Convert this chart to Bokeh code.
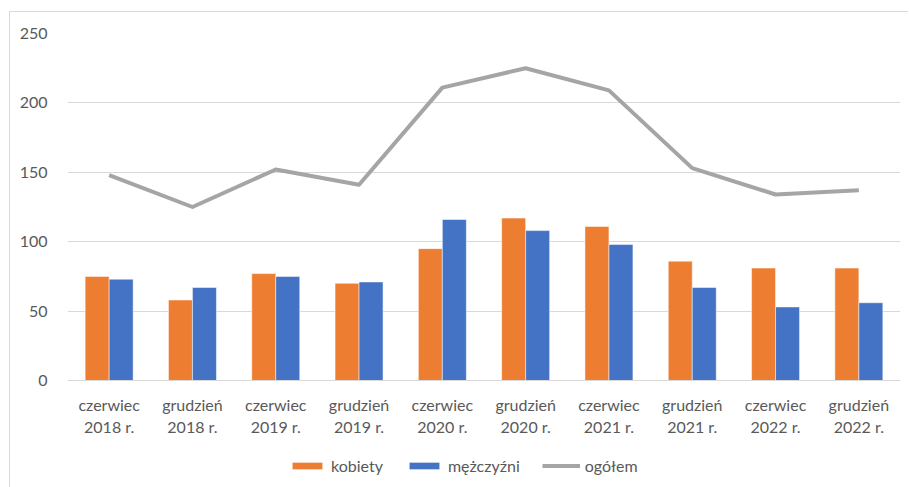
from bokeh.plotting import figure
from bokeh.models import FactorRange, Legend, LegendItem, Range1d, FixedTicker
from bokeh.transform import dodge
from bokeh.embed import file_html
from bokeh.resources import INLINE
from bokeh.models import ColumnDataSource

categories = ["czerwiec\n2018 r.", "grudzień\n2018 r.", "czerwiec\n2019 r.", "grudzień\n2019 r.",
              "czerwiec\n2020 r.", "grudzień\n2020 r.", "czerwiec\n2021 r.", "grudzień\n2021 r.",
              "czerwiec\n2022 r.", "grudzień\n2022 r."]
kobiety = [75, 58, 77, 70, 95, 117, 111, 86, 81, 81]
mezczyzni = [73, 67, 75, 71, 116, 108, 98, 67, 53, 56]
ogolem = [148, 125, 152, 141, 211, 225, 209, 153, 134, 137]
y_ticks = [0, 50, 100, 150, 200, 250]

FONT = "Lato"
TXT = "#595959"

src = ColumnDataSource(dict(cat=categories, k=kobiety, m=mezczyzni, o=ogolem))

# frame spans from the top gridline down to the page bottom; the value axis
# keeps 0..250 over the upper 347 px, leaving room below 0 for labels and legend
px_per_unit = 347 / 250
y_bottom = -107 / px_per_unit

p = figure(x_range=FactorRange(*categories), y_range=Range1d(y_bottom, 250),
           frame_width=833, frame_height=454, output_backend="svg",
           toolbar_location=None, min_border_left=57, min_border_top=21,
           min_border_right=8, min_border_bottom=0)
p.margin = (11, 0, 0, 9)
p.styles = {"border-top": "1px solid #d9d9d9", "border-left": "1px solid #d9d9d9"}

w = 0.288
rk = p.vbar(x=dodge("cat", -w / 2, range=p.x_range), top="k", bottom=0, width=w, source=src,
            fill_color="#ED7D31", line_color="white", line_width=0.5)
rm = p.vbar(x=dodge("cat", w / 2, range=p.x_range), top="m", bottom=0, width=w, source=src,
            fill_color="#4472C4", line_color="white", line_width=0.5)
ro = p.line(x="cat", y="o", source=src, line_color="#A5A5A5", line_width=4, line_join="round")

p.x_range.range_padding = 0
p.x_range.factor_padding = 0

p.outline_line_color = None
p.xgrid.grid_line_color = None
p.ygrid.grid_line_color = "#d9d9d9"
p.ygrid.grid_line_width = 1

p.yaxis.ticker = FixedTicker(ticks=y_ticks)
p.yaxis.axis_line_color = None
p.yaxis.major_tick_line_color = None
p.yaxis.minor_tick_line_color = None
p.yaxis.major_label_text_font = FONT
p.yaxis.major_label_text_font_size = "16px"
p.yaxis.major_label_text_color = TXT
p.yaxis.major_label_standoff = 14

p.xaxis.fixed_location = 0
p.xaxis.axis_line_color = "#d9d9d9"
p.xaxis.major_tick_line_color = None
p.xaxis.minor_tick_line_color = None
p.xaxis.major_label_text_font = FONT
p.xaxis.major_label_text_font_size = "16px"
p.xaxis.major_label_text_color = TXT
p.xaxis.major_label_standoff = 8

legend = Legend(items=[LegendItem(label="kobiety", renderers=[rk]),
                       LegendItem(label="mężczyźni", renderers=[rm]),
                       LegendItem(label="ogółem", renderers=[ro])],
                orientation="horizontal", location=(221, 12),
                label_text_font=FONT, label_text_font_size="16px", label_text_color=TXT,
                glyph_width=38, glyph_height=9, spacing=22, label_standoff=5,
                label_height=20,
                border_line_color=None, background_fill_alpha=0, margin=0, padding=0)
p.add_layout(legend, "center")

open("out.html", "w").write(file_html(p, INLINE))
